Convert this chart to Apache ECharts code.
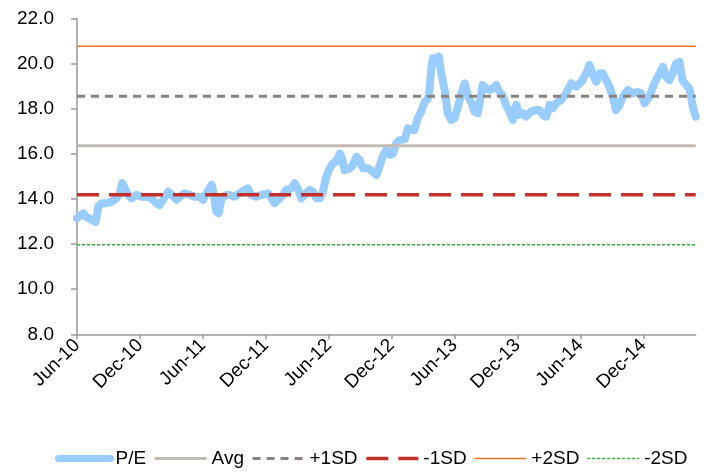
<!DOCTYPE html>
<html>
<head>
<meta charset="utf-8">
<script src="https://cdn.jsdelivr.net/npm/echarts@6/dist/echarts.min.js"></script>
<style>
  html, body { margin: 0; padding: 0; background: #fff; }
  #chart { width: 708px; height: 472px; }
</style>
</head>
<body>
<div id="chart"></div>
<script>
// Forward P/E history, Jun-2010 to Apr-2015
const peDates = [
  '2010-06-01','2010-06-09','2010-06-19','2010-06-28','2010-07-13','2010-07-25','2010-08-02','2010-08-12','2010-08-26','2010-09-10',
  '2010-09-24','2010-10-04','2010-10-11','2010-10-18','2010-10-28','2010-11-07','2010-11-22','2010-12-06','2010-12-20','2011-01-04',
  '2011-01-19','2011-01-28','2011-02-12','2011-02-21','2011-03-02','2011-03-16','2011-03-26','2011-04-09','2011-04-24','2011-05-08',
  '2011-05-22','2011-06-02','2011-06-11','2011-06-26','2011-07-02','2011-07-10','2011-07-17','2011-07-25','2011-08-09','2011-08-18',
  '2011-09-02','2011-09-16','2011-10-01','2011-10-10','2011-10-20','2011-11-04','2011-11-19','2011-12-08','2011-12-18','2011-12-27',
  '2012-01-06','2012-01-21','2012-01-31','2012-02-14','2012-02-23','2012-03-04','2012-03-13','2012-03-23','2012-04-07','2012-04-16',
  '2012-04-26','2012-05-06','2012-05-15','2012-05-25','2012-06-04','2012-06-13','2012-06-23','2012-07-03','2012-07-08','2012-07-17',
  '2012-08-01','2012-08-11','2012-08-21','2012-08-31','2012-09-09','2012-09-24','2012-10-08','2012-10-18','2012-10-27','2012-11-06',
  '2012-11-16','2012-11-26','2012-12-05','2012-12-15','2012-12-24','2013-01-09','2013-01-18','2013-01-28','2013-02-06','2013-02-15',
  '2013-02-24','2013-03-06','2013-03-16','2013-03-20','2013-03-25','2013-03-30','2013-04-09','2013-04-16','2013-04-23','2013-05-03',
  '2013-05-12','2013-05-22','2013-06-01','2013-06-11','2013-06-21','2013-06-30','2013-07-10','2013-07-19','2013-07-29','2013-08-08',
  '2013-08-18','2013-08-22','2013-09-02','2013-09-11','2013-09-21','2013-09-30','2013-10-10','2013-10-19','2013-10-29','2013-11-08',
  '2013-11-18','2013-11-28','2013-12-07','2013-12-17','2013-12-26','2014-01-10','2014-01-25','2014-02-04','2014-02-13','2014-02-22',
  '2014-03-03','2014-03-13','2014-03-22','2014-04-06','2014-04-20','2014-05-05','2014-05-20','2014-06-04','2014-06-18','2014-06-27',
  '2014-07-07','2014-07-17','2014-07-27','2014-08-05','2014-08-15','2014-08-25','2014-09-04','2014-09-13','2014-09-23','2014-10-03',
  '2014-10-17','2014-11-01','2014-11-15','2014-11-25','2014-12-05','2014-12-19','2015-01-03','2015-01-18','2015-01-28','2015-02-06',
  '2015-02-15','2015-02-24','2015-03-05','2015-03-15','2015-03-24','2015-04-04','2015-04-13','2015-04-23','2015-05-01'
];
const peValues = [
  13.15,13.25,13.37,13.21,13.07,12.99,13.66,13.81,13.81,13.88,
  14.03,14.25,14.70,14.48,14.18,14.03,14.18,14.10,14.10,14.03,
  13.81,13.73,14.10,14.32,14.18,13.96,14.10,14.25,14.18,14.10,
  14.10,13.96,14.25,14.62,14.25,13.44,13.37,14.03,14.18,14.18,
  14.10,14.25,14.40,14.47,14.18,14.10,14.18,14.25,14.03,13.81,
  13.96,14.18,14.40,14.47,14.70,14.40,14.03,14.18,14.40,14.32,
  14.03,14.03,14.32,14.99,15.36,15.58,15.65,16.02,15.87,15.28,
  15.36,15.50,15.87,15.72,15.36,15.36,15.20,15.06,15.43,15.90,
  16.17,15.95,16.00,16.47,16.61,16.65,17.13,17.06,17.06,17.58,
  17.87,18.31,18.46,18.83,19.72,20.24,20.20,20.31,19.57,18.83,
  17.80,17.50,17.58,18.09,18.68,19.13,18.53,18.31,17.87,17.80,
  18.68,19.05,18.90,18.83,18.90,19.05,18.75,18.60,18.17,17.87,
  17.50,18.17,17.73,17.80,17.65,17.87,17.94,17.94,17.72,17.65,
  18.17,18.02,18.24,18.39,18.68,19.13,18.98,19.20,19.57,19.94,
  19.50,19.20,19.57,19.57,19.27,18.98,18.53,17.94,18.17,18.53,
  18.83,18.68,18.75,18.68,18.24,18.53,19.13,19.57,19.86,19.42,
  19.27,19.57,20.01,20.08,19.27,19.05,18.90,18.09,17.65
];

// Mean and standard-deviation bands
const bandNames  = ['Avg', '+1SD', '-1SD', '+2SD', '-2SD'];
const bandLevels = [16.36, 18.55, 14.19, 20.77, 11.97];

// Axis ticks
const xTickLabels = ['Jun-10','Dec-10','Jun-11','Dec-11','Jun-12','Dec-12','Jun-13','Dec-13','Jun-14','Dec-14'];
const axisStart = '2010-06-01';
const axisEnd = '2015-05-01';
const yMin = 8, yMax = 22, yStep = 2;

// x is measured in months since June 2010
function monthIndex(s) {
  const p = s.split('-').map(Number);
  const daysInMonth = new Date(p[0], p[1], 0).getDate();
  return (p[0] - 2010) * 12 + (p[1] - 6) + (p[2] - 1) / daysInMonth;
}
const xMin = monthIndex(axisStart);
const xMax = monthIndex(axisEnd);
const tickValues = xTickLabels.map((_, i) => i * 6);

const peData = peDates.map((d, i) => [monthIndex(d), peValues[i]]);

const styles = {
  'P/E':  { color: '#99CCFF', width: 8,   type: 'solid' },
  'Avg':  { color: '#C2BBB4', width: 3,   type: 'solid' },
  '+1SD': { color: '#8A837D', width: 3,   type: [8, 6] },
  '-1SD': { color: '#C3302B', width: 3.5, type: [22, 10] },
  '+2SD': { color: '#EC7524', width: 1.5, type: 'solid' },
  '-2SD': { color: '#33B233', width: 1.5, type: [3, 2] }
};

const font = '"Liberation Sans", Arial, sans-serif';

const series = [{
  name: 'P/E',
  type: 'line',
  data: peData,
  symbol: 'none',
  color: styles['P/E'].color,
  lineStyle: { color: styles['P/E'].color, width: styles['P/E'].width, cap: 'round', join: 'round' }
}];
bandNames.forEach((name, i) => {
  const st = styles[name];
  series.push({
    name: name,
    type: 'line',
    data: [[xMin, bandLevels[i]], [xMax, bandLevels[i]]],
    symbol: 'none',
    color: st.color,
    lineStyle: { color: st.color, width: st.width, type: st.type }
  });
});

// Legend entries show only the line style of each series
const legendItems = ['P/E'].concat(bandNames).map(name => ({
  name: name,
  lineStyle: {
    color: styles[name].color,
    width: name === 'P/E' ? 7 : styles[name].width,
    type: styles[name].type,
    cap: name === 'P/E' ? 'round' : 'butt'
  },
  itemStyle: { color: 'rgba(0,0,0,0)', borderWidth: 0, opacity: 0 }
}));

const chart = echarts.init(document.getElementById('chart'), null, { renderer: 'canvas' });
chart.setOption({
  animation: false,
  backgroundColor: '#fff',
  textStyle: { fontFamily: font, color: '#000' },
  grid: { left: 77, right: 12.3, top: 18.5, bottom: 137.7, outerBoundsMode: 'none' },
  xAxis: {
    type: 'value',
    min: xMin,
    max: xMax,
    interval: 6,
    splitLine: { show: false },
    axisLine: { lineStyle: { color: '#9A9A9A', width: 1.5 } },
    axisTick: { show: true, length: 5, lineStyle: { color: '#9A9A9A', width: 1.5 }, customValues: tickValues },
    axisLabel: {
      rotate: 45,
      fontSize: 19,
      color: '#000',
      fontFamily: font,
      margin: 8,
      customValues: tickValues,
      formatter: v => xTickLabels[Math.round(v / 6)] || ''
    }
  },
  yAxis: {
    type: 'value',
    min: yMin,
    max: yMax,
    interval: yStep,
    splitLine: { show: false },
    axisLine: { show: true, lineStyle: { color: '#9A9A9A', width: 1.5 } },
    axisTick: { show: true, length: 6, lineStyle: { color: '#9A9A9A', width: 1.5 } },
    axisLabel: {
      fontSize: 19,
      color: '#000',
      fontFamily: font,
      margin: 8,
      padding: [0, 15, 0, 0],
      formatter: v => v.toFixed(1)
    }
  },
  legend: {
    left: 55,
    top: 449,
    padding: 0,
    itemWidth: 52,
    itemHeight: 14,
    itemGap: 7,
    textStyle: { fontSize: 19, color: '#000', fontFamily: font },
    data: legendItems
  },
  series: series
});
</script>
</body>
</html>
